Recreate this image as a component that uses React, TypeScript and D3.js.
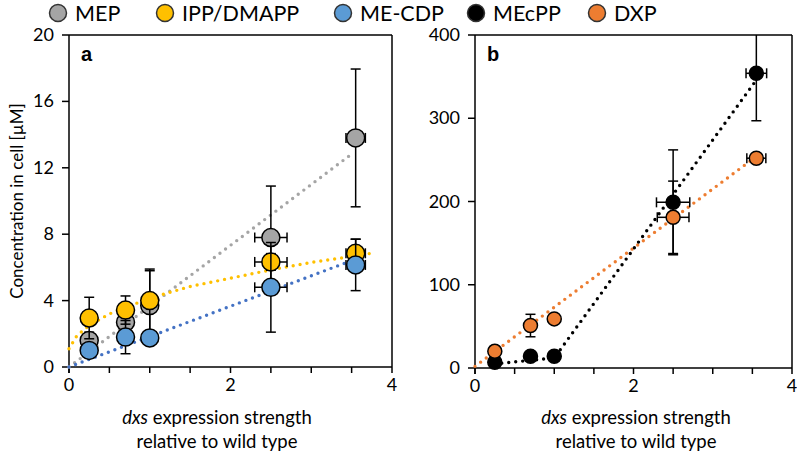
import React from 'react';
import { scaleLinear, line } from 'd3';

// x positions (dxs expression strength) and horizontal SD
const strength = [0.25, 0.7, 1.0, 2.5, 3.55];
const strengthErr = [0, 0, 0, 0.2, 0.12];

// panel a (µM)
const mep = [1.6, 2.7, 3.7, 7.8, 13.8];
const mepErr = [0.5, 0.5, 2.1, 3.1, 4.15];
const ipp = [2.95, 3.43, 4.0, 6.33, 6.85];
const ippErr = [1.25, 0.85, 1.9, 0.5, 0.85];
const mecdp = [1.0, 1.8, 1.75, 4.8, 6.15];
const mecdpErr = [0.4, 1.0, 0.45, 2.7, 1.55];

// panel b (µM)
const mecpp = [7, 14, 14, 199, 354];
const mecppErr = [3, 4, 4, 63, 57];
const mecppXErr = [0, 0, 0, 0.21, 0.13];
const dxp = [20, 51, 59, 181, 252];
const dxpErr = [6, 13.5, 4, 43.5, 5];

// dotted trend lines
const mepTrend: [number, number][] = [[0, 0], [3.52, 12.9]];
const ippTrend: [number, number][] = [[0, 1.1], [0.1, 1.9], [0.25, 2.5], [0.5, 3.2], [1, 4.15], [1.5, 4.85], [2, 5.35], [2.5, 5.85], [3, 6.3], [3.5, 6.65], [3.8, 6.9]];
const mecdpTrend: [number, number][] = [[0, 0], [3.55, 6.5]];
const mecppTrend: [number, number][] = [[0.25, 5], [1.0, 12], [3.52, 342]];
const dxpTrend: [number, number][] = [[0, 2], [3.52, 252]];

const xTicksMajor = [0, 2, 4];
const xTicksMinor = [0, 0.5, 1, 1.5, 2, 2.5, 3, 3.5, 4];
const yTicksA = [0, 4, 8, 12, 16, 20];
const yTicksB = [0, 100, 200, 300, 400];

const legend = [
  { name: 'MEP', fill: '#A5A5A5', x: 58 },
  { name: 'IPP/DMAPP', fill: '#FFC000', x: 165 },
  { name: 'ME-CDP', fill: '#5B9BD5', x: 343 },
  { name: 'MEcPP', fill: '#000000', x: 476 },
  { name: 'DXP', fill: '#ED7D31', x: 597 },
];

const font = 'Lato, "Open Sans", sans-serif';

interface Series {
  values: number[];
  err: number[];
  xErr: number[];
  fill: string;
}
interface Trend {
  pts: [number, number][];
  color: string;
}

interface PanelProps {
  id: string;
  left: number; right: number; top: number; bottom: number;
  yMax: number;
  yTicks: number[];
  letter: string;
  labelX: number;
  series: Series[];
  trends: Trend[];
  r: number;
}

const Panel: React.FC<PanelProps> = ({ id, left, right, top, bottom, yMax, yTicks, letter, labelX, series, trends, r }) => {
  const x = scaleLinear().domain([0, 4]).range([left, right]);
  const y = scaleLinear().domain([0, yMax]).range([bottom, top]);
  const path = line<[number, number]>().x(d => x(d[0])).y(d => y(d[1]));
  const cap = 5;
  return (
    <g>
      <defs>
        <clipPath id={id}>
          <rect x={left - 20} y={top} width={right - left + 40} height={bottom - top + 20} />
        </clipPath>
      </defs>
      {/* frame */}
      <line x1={left} x2={right} y1={top} y2={top} stroke="#000" strokeWidth={1.5} />
      <line x1={right} x2={right} y1={top} y2={bottom} stroke="#000" strokeWidth={1.5} />
      <line x1={left} x2={left} y1={top} y2={bottom + 6} stroke="#000" strokeWidth={1.5} />
      <line x1={left} x2={right} y1={bottom} y2={bottom} stroke="#000" strokeWidth={1.5} />
      {xTicksMinor.map(t => (
        <line key={'xt' + t} x1={x(t)} x2={x(t)} y1={bottom} y2={bottom + 6} stroke="#000" strokeWidth={1.5} />
      ))}
      {xTicksMajor.map(t => (
        <text key={'xl' + t} x={x(t)} y={bottom + 24} textAnchor="middle" fontSize={18} fontFamily={font}>{t}</text>
      ))}
      {yTicks.map(t => (
        <g key={'yt' + t}>
          <line x1={left - 7} x2={left} y1={y(t)} y2={y(t)} stroke="#000" strokeWidth={1.5} />
          <text x={left - 15} y={y(t) + 6} textAnchor="end" fontSize={18} fontFamily={font}>{t}</text>
        </g>
      ))}
      <text x={left + 12} y={top + 26} fontSize={20} fontWeight="bold" fontFamily="Arial, 'Liberation Sans', sans-serif">{letter}</text>
      <text x={labelX} y={424} textAnchor="middle" fontSize={18.5} fontFamily={font}>
        <tspan fontStyle="italic">dxs</tspan> expression strength
      </text>
      <text x={labelX} y={448} textAnchor="middle" fontSize={18.5} fontFamily={font}>relative to wild type</text>
      <g clipPath={`url(#${id})`}>
        {trends.map((t, i) => (
          <path key={'tr' + i} d={path(t.pts) || ''} fill="none" stroke={t.color} strokeWidth={3.4}
            strokeDasharray="0 7" strokeLinecap="round" />
        ))}
        {series.map((s, si) => (
          <g key={'s' + si}>
            {s.values.map((v, i) => {
              const cx = x(strength[i]);
              const cy = y(v);
              const e = s.err[i];
              const xe = s.xErr[i];
              return (
                <g key={i} stroke="#000" strokeWidth={1.5}>
                  {e > 0 && (
                    <g>
                      <line x1={cx} x2={cx} y1={y(v - e)} y2={y(v + e)} />
                      <line x1={cx - cap} x2={cx + cap} y1={y(v - e)} y2={y(v - e)} />
                      <line x1={cx - cap} x2={cx + cap} y1={y(v + e)} y2={y(v + e)} />
                    </g>
                  )}
                  {xe > 0 && (
                    <g>
                      <line x1={x(strength[i] - xe)} x2={x(strength[i] + xe)} y1={cy} y2={cy} />
                      <line x1={x(strength[i] - xe)} x2={x(strength[i] - xe)} y1={cy - cap} y2={cy + cap} />
                      <line x1={x(strength[i] + xe)} x2={x(strength[i] + xe)} y1={cy - cap} y2={cy + cap} />
                    </g>
                  )}
                  <circle cx={cx} cy={cy} r={r} fill={s.fill} />
                </g>
              );
            })}
          </g>
        ))}
      </g>
    </g>
  );
};

const App: React.FC = () => {
  return (
    <svg width={797} height={456} style={{ position: 'absolute', left: 0, top: 0, background: '#fff' }}>
      <rect width={797} height={456} fill="#fff" />
      {legend.map(l => (
        <g key={l.name}>
          <circle cx={l.x} cy={13} r={8.5} fill={l.fill} stroke="#333" strokeWidth={1.5} />
          <text x={l.x + 17} y={20.5} fontSize={21.5} fontFamily={font}>{l.name}</text>
        </g>
      ))}
      <text transform="translate(23,201) rotate(-90)" textAnchor="middle" fontSize={17} fontFamily={font}>
        Concentration in cell [µM]
      </text>
      <Panel
        id="clipA" left={69} right={392} top={35} bottom={367} yMax={20} yTicks={yTicksA} letter="a" r={9}
        labelX={217}
        trends={[
          { pts: mepTrend, color: '#A5A5A5' },
          { pts: ippTrend, color: '#FFC000' },
          { pts: mecdpTrend, color: '#4472C4' },
        ]}
        series={[
          { values: mep, err: mepErr, xErr: strengthErr, fill: '#A5A5A5' },
          { values: ipp, err: ippErr, xErr: strengthErr, fill: '#FFC000' },
          { values: mecdp, err: mecdpErr, xErr: strengthErr, fill: '#5B9BD5' },
        ]}
      />
      <Panel
        id="clipB" left={475} right={792} top={35} bottom={368} yMax={400} yTicks={yTicksB} letter="b" r={7}
        labelX={636}
        trends={[
          { pts: dxpTrend, color: '#ED7D31' },
          { pts: mecppTrend, color: '#000000' },
        ]}
        series={[
          { values: mecpp, err: mecppErr, xErr: mecppXErr, fill: '#000000' },
          { values: dxp, err: dxpErr, xErr: strengthErr, fill: '#ED7D31' },
        ]}
      />
    </svg>
  );
};

export default App;
